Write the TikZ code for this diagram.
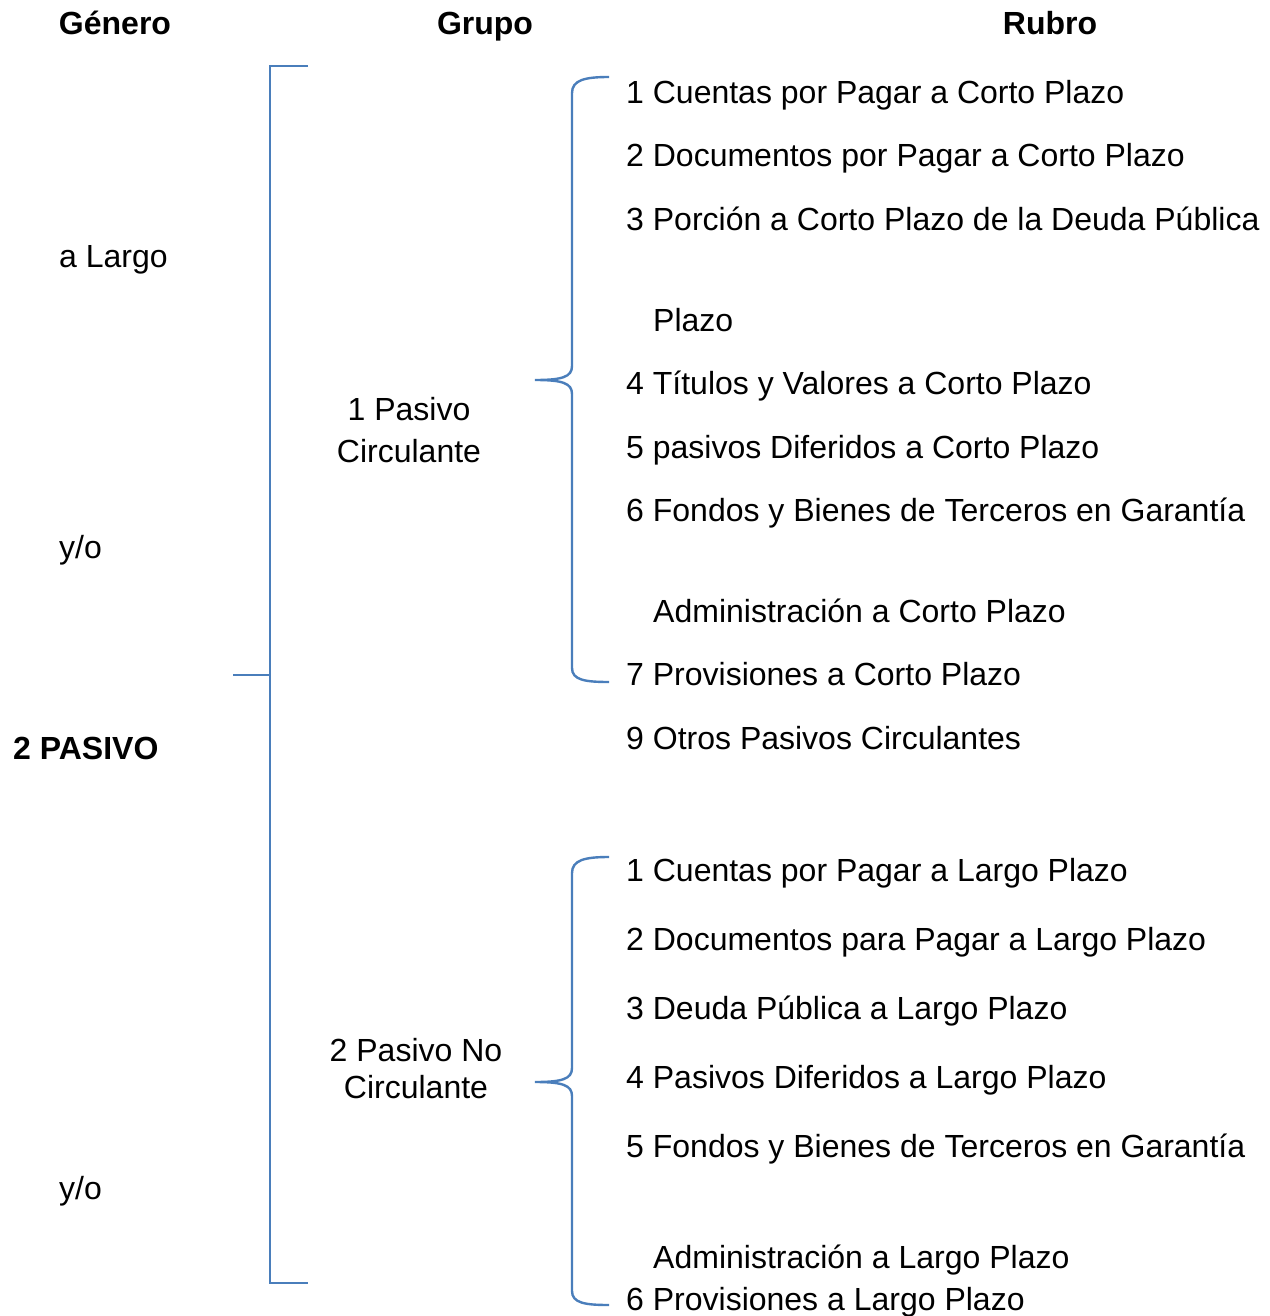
\documentclass[tikz,border=0pt]{standalone}
\usepackage{fontspec}
\setmainfont{Liberation Sans}
\definecolor{linea}{HTML}{4A7EBB}
\begin{document}
\begin{tikzpicture}[x=1pt,y=1pt]
            \tikzstyle{every node}+=[inner sep=0pt, font=\fontsize{32}{38}\selectfont]
            \tikzstyle{titulo}=[anchor=base, font=\fontsize{32}{38}\selectfont\bfseries]
            \tikzstyle{rubro}=[anchor=base west]
            \tikzstyle{grupo}=[align=center, font=\fontsize{32}{42}\selectfont]
            \tikzstyle{llave}=[draw=linea, line width=2.4pt]
            \useasboundingbox (0,0) rectangle (1269,-1316);
                % encabezados
                \node[titulo] (genero) at (115,-35) {Género};
                \node[titulo] (grupo) at (485,-35) {Grupo};
                \node[titulo] (rubro) at (1050,-35) {Rubro};
                % genero
                \node[rubro] (largo) at (59,-267) {a Largo};
                \node[rubro] (yo1) at (59,-558) {y/o};
                \node[rubro, font=\fontsize{32}{38}\selectfont\bfseries] (pasivo) at (13,-759) {2 PASIVO};
                \node[rubro] (yo2) at (59,-1199) {y/o};
                % grupos
                \node[grupo] (circ) at (409,-430) {1 Pasivo\\Circulante};
                \node[grupo, font=\fontsize{32}{37}\selectfont] (nocirc) at (416,-1069) {2 Pasivo No\\Circulante};
                % rubros del pasivo circulante
                \node[rubro] (c1) at (626,-104) {1 Cuentas por Pagar a Corto Plazo};
                \node[rubro] (c2) at (626,-167) {2 Documentos por Pagar a Corto Plazo};
                \node[rubro] (c3) at (626,-230) {3 Porción a Corto Plazo de la Deuda Pública};
                \node[rubro] (c3b) at (653,-331) {Plazo};
                \node[rubro] (c4) at (626,-394) {4 Títulos y Valores a Corto Plazo};
                \node[rubro] (c5) at (626,-458) {5 pasivos Diferidos a Corto Plazo};
                \node[rubro] (c6) at (626,-521) {6 Fondos y Bienes de Terceros en Garantía};
                \node[rubro] (c6b) at (653,-622) {Administración a Corto Plazo};
                \node[rubro] (c7) at (626,-685) {7 Provisiones a Corto Plazo};
                \node[rubro] (c9) at (626,-749) {9 Otros Pasivos Circulantes};
                % rubros del pasivo no circulante
                \node[rubro] (n1) at (626,-881) {1 Cuentas por Pagar a Largo Plazo};
                \node[rubro] (n2) at (626,-950) {2 Documentos para Pagar a Largo Plazo};
                \node[rubro] (n3) at (626,-1019) {3 Deuda Pública a Largo Plazo};
                \node[rubro] (n4) at (626,-1088) {4 Pasivos Diferidos a Largo Plazo};
                \node[rubro] (n5) at (626,-1157) {5 Fondos y Bienes de Terceros en Garantía};
                \node[rubro] (n5b) at (653,-1268) {Administración a Largo Plazo};
                \node[rubro] (n6) at (626,-1310) {6 Provisiones a Largo Plazo};
                % corchete del genero
                \coordinate (pas-tick) at (233,-675);
                \coordinate (pas-mid) at (270,-675);
                \coordinate (pas-top) at (308,-66);
                \coordinate (pas-bot) at (308,-1283);
                \draw[llave] (pas-top) -- (270,-66) -- (270,-1283) -- (pas-bot);
                \draw[llave] (pas-tick) -- (pas-mid);
                % llave del pasivo circulante
                \coordinate (g1-top) at (609,-77);
                \coordinate (g1-tip) at (535,-380);
                \coordinate (g1-bot) at (609,-682);
                \draw[llave] (g1-top) .. controls (585,-77) and (572,-80) .. (572,-93)
                    -- (572,-366) .. controls (572,-377) and (562,-380) .. (g1-tip)
                    .. controls (562,-380) and (572,-383) .. (572,-394)
                    -- (572,-668) .. controls (572,-680) and (585,-682) .. (g1-bot);
                % llave del pasivo no circulante
                \coordinate (g2-top) at (609,-857);
                \coordinate (g2-tip) at (535,-1082);
                \coordinate (g2-bot) at (609,-1305);
                \draw[llave] (g2-top) .. controls (585,-857) and (572,-860) .. (572,-873)
                    -- (572,-1068) .. controls (572,-1079) and (562,-1082) .. (g2-tip)
                    .. controls (562,-1082) and (572,-1085) .. (572,-1096)
                    -- (572,-1291) .. controls (572,-1303) and (585,-1305) .. (g2-bot);
            \end{tikzpicture}
\end{document}
